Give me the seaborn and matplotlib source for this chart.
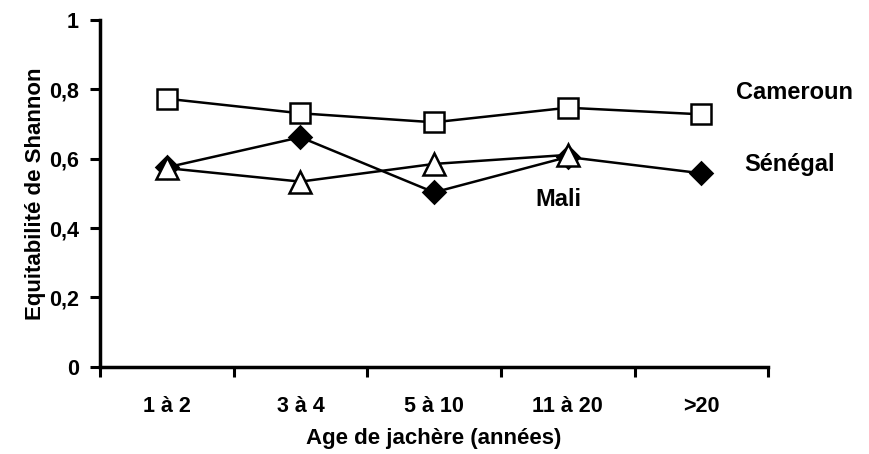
import numpy as np
import pandas as pd
import matplotlib
matplotlib.use("Agg")
import matplotlib.pyplot as plt
import seaborn as sns

# ----------------------------- Data -----------------------------
categories = ["1 à 2", "3 à 4", "5 à 10", "11 à 20", ">20"]
cameroun = [0.773, 0.731, 0.705, 0.747, 0.728]
senegal = [0.575, 0.662, 0.503, 0.605, 0.558]
mali = [0.573, 0.534, 0.585, 0.611, None]
y_ticks = [0, 0.2, 0.4, 0.6, 0.8, 1.0]
y_tick_labels = ["0", "0,2", "0,4", "0,6", "0,8", "1"]

# ----------------------------- Plot -----------------------------
sns.set_theme(style="white", rc={"text.color": "black", "axes.labelcolor": "black",
                                 "xtick.color": "black", "ytick.color": "black"})
plt.rcParams["font.family"] = ["Liberation Sans", "DejaVu Sans"]

fig = plt.figure(figsize=(8.69, 4.54), dpi=100)
ax = fig.add_axes([0.115, 0.192, 0.769, 0.764])

x_pos = np.arange(len(categories))
series = [
    ("Cameroun", cameroun, "s", 14, "white"),
    ("Sénégal", senegal, "D", 11, "black"),
    ("Mali", mali, "^", 16, "white"),
]
for name, values, marker, msize, face in series:
    df = pd.DataFrame({"x": x_pos, "y": values}).dropna()
    sns.lineplot(data=df, x="x", y="y", ax=ax, color="black", linewidth=1.8,
                 marker=marker, markersize=msize, markerfacecolor=face,
                 markeredgecolor="black", markeredgewidth=1.8)

# Series labels
label_kw = dict(fontsize=17, fontweight="bold", va="center", ha="left", clip_on=False, color="black")
ax.text(4.26, 0.79, "Cameroun", **label_kw)
ax.text(4.32, 0.583, "Sénégal", **label_kw)
ax.text(2.76, 0.482, "Mali", **label_kw)

# Axes styling
ax.set_xlim(-0.5, len(categories) - 0.5)
ax.set_ylim(0, 1)
ax.set_yticks(y_ticks)
ax.set_yticklabels(y_tick_labels, fontsize=15.5, fontweight="bold", color="black")
ax.set_xticks(x_pos)
ax.set_xticklabels(categories, fontsize=15.5, fontweight="bold", color="black")
ax.set_xticks(np.arange(len(categories) + 1) - 0.5, minor=True)
ax.tick_params(axis="x", which="major", bottom=False, length=0, pad=21)
ax.tick_params(axis="x", which="minor", bottom=True, length=7, width=2.2, direction="out", color="black")
ax.tick_params(axis="y", which="major", left=True, length=7, width=2.2, direction="out", color="black", pad=8)
ax.set_xlabel("Age de jachère (années)", fontsize=16, fontweight="bold", labelpad=8, color="black")
ax.set_ylabel("Equitabilité de Shannon", fontsize=16, fontweight="bold", labelpad=2, color="black")
ax.grid(False)

for side in ["top", "right"]:
    ax.spines[side].set_visible(False)
for side in ["left", "bottom"]:
    ax.spines[side].set_color("black")
    ax.spines[side].set_linewidth(2.5)

fig.savefig("out.png", dpi=100)
